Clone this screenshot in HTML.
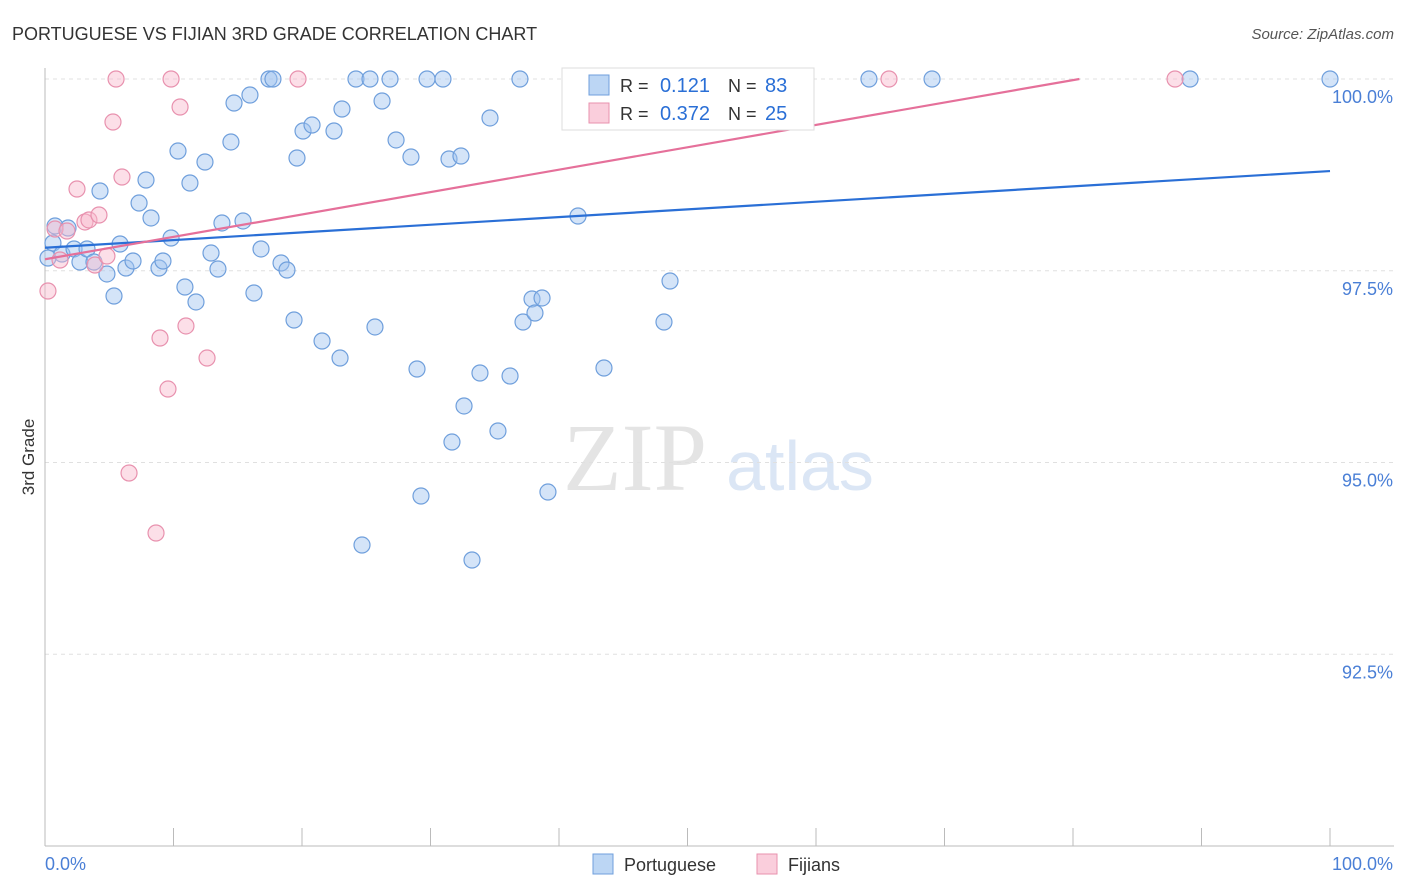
<!DOCTYPE html>
<html><head><meta charset="utf-8">
<style>
body{margin:0;background:#fff;font-family:"Liberation Sans",sans-serif;}
#wrap{position:relative;width:1406px;height:892px;overflow:hidden;}
</style></head>
<body>
<div id="wrap">
<svg id="svg" width="1406" height="892" xmlns="http://www.w3.org/2000/svg"></svg>
</div>
<script>
const bluePx=[[55,226],[53,243],[48,258],[62,254],[68,228],[74,249],[80,262],[87,249],[94,262],[100,191],[107,274],[114,296],[120,244],[126,268],[133,261],[139,203],[146,180],[151,218],[159,268],[163,261],[171,238],[178,151],[185,287],[190,183],[196,302],[205,162],[211,253],[218,269],[222,223],[231,142],[234,103],[243,221],[250,95],[254,293],[261,249],[269,79],[273,79],[281,263],[287,270],[294,320],[297,158],[303,131],[312,125],[322,341],[334,131],[340,358],[342,109],[356,79],[362,545],[370,79],[375,327],[382,101],[390,79],[396,140],[411,157],[417,369],[421,496],[427,79],[443,79],[449,159],[452,442],[461,156],[464,406],[472,560],[480,373],[490,118],[498,431],[510,376],[520,79],[523,322],[532,299],[535,313],[542,298],[548,492],[578,216],[604,368],[664,322],[670,281],[869,79],[932,79],[1190,79],[1330,79]];
const pinkPx=[[48,291],[55,229],[60,260],[67,231],[77,189],[85,222],[89,220],[95,265],[99,215],[107,256],[113,122],[116,79],[122,177],[129,473],[156,533],[160,338],[168,389],[171,79],[180,107],[186,326],[207,358],[298,79],[889,79],[1175,79]];
// data arrays (x %, y %)
const portugueseX=bluePx.map(p=>+((p[0]-45)/12.85).toFixed(2));
const portugueseY=bluePx.map(p=>+(100-(p[1]-79)/76.7).toFixed(3));
const fijiansX=pinkPx.map(p=>+((p[0]-45)/12.85).toFixed(2));
const fijiansY=pinkPx.map(p=>+(100-(p[1]-79)/76.7).toFixed(3));
const blueTrend=[97.8,98.8];
const pinkTrend=[97.65,100];const pinkTrendEndX=80.5;
const yTicks=[100,97.5,95,92.5];
const yTickLabels=["100.0%","97.5%","95.0%","92.5%"];

const X0=45,X1=1330,YT=79,YPX=76.7;
const sx=v=>X0+(X1-X0)*v/100;
const sy=v=>YT+(100-v)*YPX;
const svg=document.getElementById('svg');
const NS='http://www.w3.org/2000/svg';
function el(t,a,txt){const e=document.createElementNS(NS,t);for(const k in a)e.setAttribute(k,a[k]);if(txt!==undefined)e.textContent=txt;svg.appendChild(e);return e;}

let e=el('text',{x:12,y:40,'font-size':18,fill:'#333'},'PORTUGUESE VS FIJIAN 3RD GRADE CORRELATION CHART');

e=el('text',{x:1394,y:39,'font-size':15,fill:'#555','font-style':'italic','text-anchor':'end'},'Source: ZipAtlas.com');

e=el('text',{x:34,y:457,'font-size':17,fill:'#333','text-anchor':'middle',transform:'rotate(-90 34 457)'},'3rd Grade');


// watermark
e=el('text',{x:635,y:490,'font-size':96,fill:'#e4e4e4','font-family':'Liberation Serif,serif','text-anchor':'middle'},'ZIP');

e=el('text',{x:800,y:490,'font-size':70,fill:'#dbe6f5','text-anchor':'middle'},'atlas');


yTicks.forEach((t,i)=>{
 e=el('line',{x1:X0,x2:1394,y1:sy(t),y2:sy(t),stroke:'#e0e0e0','stroke-dasharray':'4,4'});
 
 e=el('text',{x:1393,y:sy(t)+24,'font-size':18,fill:'#4a7fd6','text-anchor':'end'},yTickLabels[i]);
 
});
e=el('line',{x1:X0,x2:X0,y1:68,y2:846,stroke:'#bbb'});

e=el('line',{x1:X0,x2:1394,y1:846,y2:846,stroke:'#bbb'});

for(let i=0;i<=10;i++){e=el('line',{x1:sx(i*10),x2:sx(i*10),y1:828,y2:846,stroke:'#bbb'});
 }
e=el('text',{x:45,y:870,'font-size':18,fill:'#4a7fd6'},'0.0%');

e=el('text',{x:1393,y:870,'font-size':18,fill:'#4a7fd6','text-anchor':'end'},'100.0%');


portugueseX.forEach((x,i)=>{e=el('circle',{cx:sx(x),cy:sy(portugueseY[i]),r:8,fill:'rgba(160,196,240,0.45)',stroke:'#6f9fdc','stroke-width':1.2});
 });
fijiansX.forEach((x,i)=>{e=el('circle',{cx:sx(x),cy:sy(fijiansY[i]),r:8,fill:'rgba(248,185,205,0.45)',stroke:'#e891ae','stroke-width':1.2});
 });

e=el('line',{x1:sx(0),y1:sy(blueTrend[0]),x2:sx(100),y2:sy(blueTrend[1]),stroke:'#2a6fd6','stroke-width':2.2});

e=el('line',{x1:sx(0),y1:sy(pinkTrend[0]),x2:sx(pinkTrendEndX),y2:sy(pinkTrend[1]),stroke:'#e5709a','stroke-width':2.2});


// legend box
e=el('rect',{x:562,y:68,width:252,height:62,fill:'#fff',stroke:'#ddd'});

[[85,'rgba(160,196,240,0.7)','#6f9fdc','0.121','83'],[113,'rgba(248,185,205,0.7)','#e891ae','0.372','25']].forEach(r=>{
 e=el('rect',{x:589,y:r[0]-10,width:20,height:20,fill:r[1],stroke:r[2]});
 
 e=el('text',{x:620,y:r[0]+7,'font-size':18,fill:'#333'},'R = ');
 
 e=el('text',{x:710,y:r[0]+7,'font-size':20,fill:'#2a6fd6','text-anchor':'end'},r[3]);
 
 e=el('text',{x:728,y:r[0]+7,'font-size':18,fill:'#333'},'N = ');
 
 e=el('text',{x:765,y:r[0]+7,'font-size':20,fill:'#2a6fd6'},r[4]);
 
});
// bottom legend
[[593,'rgba(160,196,240,0.7)','#6f9fdc','Portuguese'],[757,'rgba(248,185,205,0.7)','#e891ae','Fijians']].forEach(r=>{
 e=el('rect',{x:r[0],y:854,width:20,height:20,fill:r[1],stroke:r[2]});
 
 e=el('text',{x:r[0]+31,y:871,'font-size':18,fill:'#333'},r[3]);
 
});
</script>
</body></html>
